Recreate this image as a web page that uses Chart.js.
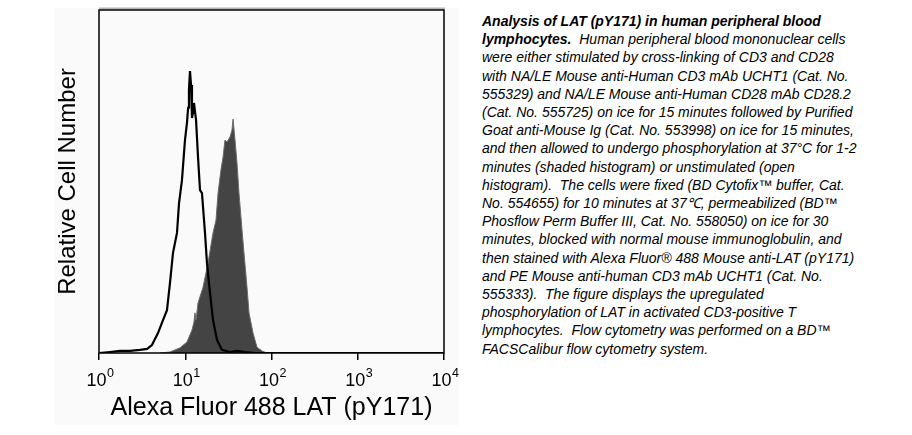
<!DOCTYPE html>
<html>
<head>
<meta charset="utf-8">
<script src="https://cdn.jsdelivr.net/npm/chart.js@4.4.0/dist/chart.umd.min.js"></script>
<style>
    body { margin: 0; background: #fff; width: 912px; height: 435px; overflow: hidden; position: relative; }
    #panel { position: absolute; left: 55px; top: 8px; width: 404px; height: 417px; background: #fafafa; }
    #wrap { position: absolute; left: 0; top: 0; width: 460px; height: 435px; }
    #caption {
        position: absolute; left: 482px; top: 12px;
        font-family: "Liberation Sans", Arial, sans-serif;
        font-size: 14px; font-style: italic; line-height: 18.2px;
        color: #000; white-space: nowrap;
    }
</style>
</head>
<body>
<div id="panel"></div>
<div id="wrap"><canvas id="histChart" width="460" height="435"></canvas></div>
<div id="caption">
<b>Analysis of LAT (pY171) in human peripheral blood</b><br>
<b>lymphocytes.</b>&nbsp; Human peripheral blood mononuclear cells<br>
were either stimulated by cross-linking of CD3 and CD28<br>
with NA/LE Mouse anti-Human CD3 mAb UCHT1 (Cat. No.<br>
555329) and NA/LE Mouse anti-Human CD28 mAb CD28.2<br>
(Cat. No. 555725) on ice for 15 minutes followed by Purified<br>
Goat anti-Mouse Ig (Cat. No. 553998) on ice for 15 minutes,<br>
and then allowed to undergo phosphorylation at 37°C for 1-2<br>
minutes (shaded histogram) or unstimulated (open<br>
histogram).&nbsp; The cells were fixed (BD Cytofix™ buffer, Cat.<br>
No. 554655) for 10 minutes at 37℃, permeabilized (BD™<br>
Phosflow Perm Buffer III, Cat. No. 558050) on ice for 30<br>
minutes, blocked with normal mouse immunoglobulin, and<br>
then stained with Alexa Fluor® 488 Mouse anti-LAT (pY171)<br>
and PE Mouse anti-human CD3 mAb UCHT1 (Cat. No.<br>
555333).&nbsp; The figure displays the upregulated<br>
phosphorylation of LAT in activated CD3-positive T<br>
lymphocytes.&nbsp; Flow cytometry was performed on a BD™<br>
FACSCalibur flow cytometry system.
</div>
<script>
// open histogram (unstimulated), fluorescence vs relative count
const openX = [1, 1.34, 1.75, 2.29, 2.99, 3.61, 4.11, 4.83, 5.52, 6.14, 6.65, 7.21, 8.02, 8.47, 9.16,
    9.93, 10.47, 10.8, 11.04, 11.35, 11.67, 11.97, 12.3, 12.62, 13.34, 14.06, 14.83, 15.63, 16.94, 17.86, 19.36,
    20.99, 23.33, 26.67, 33.04, 39.81, 49.32, 64.4, 10000];
const openY = [0, 0.3, 0.6, 0.6, 0.9, 1.2, 2.3, 5.8, 9.6, 12.5, 20.4, 29.2, 35.0, 43.7, 50.4,
    62.1, 67.1, 71.5, 76.7, 82.2, 78.1, 68.5, 70.0, 72.9, 67.9, 57.1, 47.5, 46.6, 35.0, 26.2, 17.5,
    9.6, 3.8, 0.9, 0.3, 0.6, 0.3, 0, 0];

// shaded histogram (stimulated 1-2 min)
const shadedX = [5.09, 6.65, 8.69, 10.47, 11.97, 12.62, 12.97, 13.34, 14.06, 16.07, 18.37, 20.99,
    22.75, 23.99, 25.94, 27.42, 28.91, 30.48, 33.04, 34.83, 35.81, 37.76, 39.81, 41.98, 45.5,
    47.97, 52.0, 54.83, 61.09, 67.92, 77.6, 88.7];
const shadedY = [0, 0.3, 1.5, 3.2, 6.7, 9.0, 11.7, 9.6, 14.6, 19.2, 26.2, 35.0,
    38.8, 46.6, 53.4, 57.1, 62.1, 61.5, 63.0, 65.0, 68.2, 62.1, 55.4, 46.6, 35.9,
    29.2, 19.2, 11.7, 5.8, 1.7, 0.6, 0];

const xTicks = [1, 10, 100, 1000, 10000];
const xTitle = "Alexa Fluor 488 LAT (pY171)";
const yTitle = "Relative Cell Number";

const FONT = '"Liberation Sans", Arial, sans-serif';

function toPoints(xs, ys) {
    return xs.map((x, i) => ({ x: x, y: ys[i] }));
}

// frame around the plot + decade labels with superscripts
const framePlugin = {
    id: 'frame',
    afterDraw(chart) {
        const ctx = chart.ctx;
        const a = chart.chartArea;
        ctx.save();
        ctx.fillStyle = '#b4b4b4';
        ctx.fillRect(a.left, a.top - 2.5, a.right - a.left + 1, 1.8);
        ctx.strokeStyle = '#000';
        ctx.lineWidth = 1.5;
        ctx.strokeRect(a.left, a.top, a.right - a.left, a.bottom - a.top);

        const xs = chart.scales.x;
        ctx.fillStyle = '#000';
        ctx.textBaseline = 'alphabetic';
        ctx.textAlign = 'left';
        xTicks.forEach(v => {
            const px = xs.getPixelForValue(v);
            const exp = String(Math.round(Math.log10(v)));
            ctx.font = '18px ' + FONT;
            const w1 = ctx.measureText('10').width;
            ctx.font = '12.5px ' + FONT;
            const w2 = ctx.measureText(exp).width;
            const start = px - (w1 + w2) / 2 + 1;
            ctx.font = '18px ' + FONT;
            ctx.fillText('10', start, 386);
            ctx.font = '12.5px ' + FONT;
            ctx.fillText(exp, start + w1 + 0.5, 377);
        });
        ctx.restore();
    }
};

const chart = new Chart(document.getElementById('histChart').getContext('2d'), {
    type: 'line',
    data: {
        datasets: [{
            label: 'Unstimulated',
            data: toPoints(openX, openY),
            borderColor: '#000',
            borderWidth: 2.2,
            fill: false,
            pointRadius: 0,
            tension: 0
        }, {
            label: 'Stimulated',
            data: toPoints(shadedX, shadedY),
            borderColor: '#6a6a6a',
            borderWidth: 1,
            backgroundColor: '#444444',
            fill: 'origin',
            pointRadius: 0,
            tension: 0
        }]
    },
    options: {
        responsive: false,
        animation: false,
        layout: { padding: { top: 10, right: 16, left: 0, bottom: 0 } },
        plugins: { legend: { display: false }, tooltip: { enabled: false } },
        scales: {
            x: {
                type: 'logarithmic',
                min: 1,
                max: 10000,
                afterBuildTicks: s => { s.ticks = xTicks.map(v => ({ value: v })); },
                afterFit: s => { s.height = 82; },
                ticks: { display: false },
                border: { display: false },
                grid: { display: true, drawOnChartArea: false, drawTicks: true, tickLength: 7, color: '#000', lineWidth: 1.5 },
                title: { display: true, text: xTitle, color: '#000', font: { family: FONT, size: 25 }, padding: { top: 0, bottom: 12 } }
            },
            y: {
                min: 0,
                max: 100,
                afterFit: s => { s.width = 99; },
                ticks: { display: false },
                border: { display: false },
                grid: { display: false },
                title: { display: true, text: yTitle, color: '#000', font: { family: FONT, size: 24 }, padding: { top: 53.5, bottom: 0 } }
            }
        }
    },
    plugins: [framePlugin]
});
</script>
</body>
</html>
